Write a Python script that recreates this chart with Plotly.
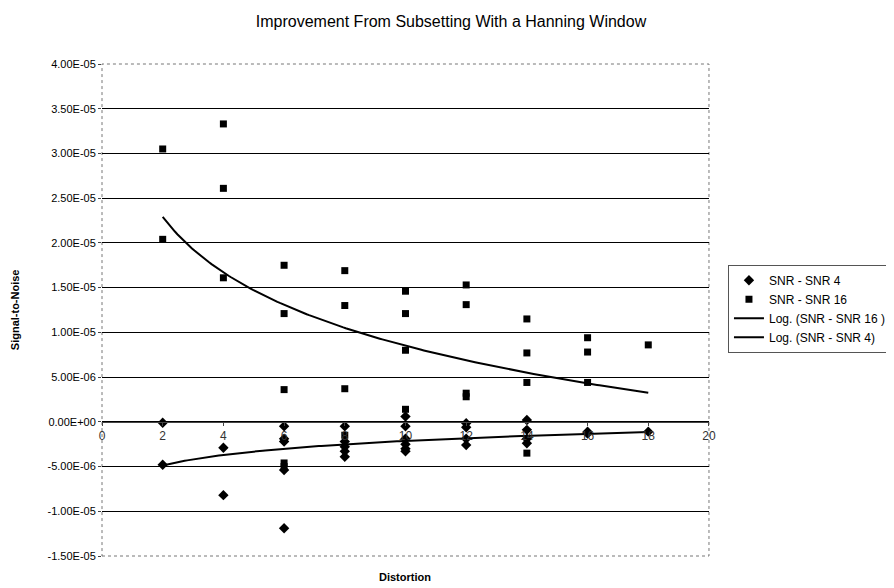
import numpy as np
import plotly.graph_objects as go

# SNR - SNR 4 (diamonds)
snr4_x = [2, 2, 4, 4, 6, 6, 6, 6, 6, 8, 8, 8, 8, 8, 10, 10, 10, 10, 10, 10,
          12, 12, 12, 12, 14, 14, 14, 14, 16, 16, 18]
snr4_y = [-0.1e-6, -4.8e-6, -2.9e-6, -8.2e-6, -0.5e-6, -1.9e-6, -2.2e-6, -5.4e-6, -11.9e-6,
          -0.5e-6, -2.2e-6, -2.8e-6, -3.3e-6, -3.9e-6,
          0.6e-6, -0.5e-6, -1.9e-6, -2.5e-6, -3.0e-6, -3.3e-6,
          -0.15e-6, -0.6e-6, -1.9e-6, -2.6e-6,
          0.2e-6, -0.9e-6, -1.9e-6, -2.4e-6,
          -1.1e-6, -1.3e-6, -1.1e-6]

# SNR - SNR 16 (squares)
snr16_x = [2, 2, 4, 4, 4, 6, 6, 6, 6, 6, 8, 8, 8, 8, 10, 10, 10, 10,
           12, 12, 12, 12, 14, 14, 14, 14, 16, 16, 16, 18]
snr16_y = [30.5e-6, 20.4e-6, 33.3e-6, 26.1e-6, 16.1e-6,
           17.5e-6, 12.1e-6, 3.6e-6, -4.6e-6, -5.0e-6,
           16.9e-6, 13.0e-6, 3.7e-6, -1.5e-6,
           14.6e-6, 12.1e-6, 8.0e-6, 1.4e-6,
           15.3e-6, 13.1e-6, 3.2e-6, 2.8e-6,
           11.5e-6, 7.7e-6, 4.4e-6, -3.5e-6,
           9.4e-6, 7.8e-6, 4.4e-6, 8.6e-6]

y_tickvals = [4e-5, 3.5e-5, 3e-5, 2.5e-5, 2e-5, 1.5e-5, 1e-5, 5e-6, 0,
              -5e-6, -1e-5, -1.5e-5]
y_ticktext = ["4.00E-05", "3.50E-05", "3.00E-05", "2.50E-05", "2.00E-05",
              "1.50E-05", "1.00E-05", "5.00E-06", "0.00E+00", "-5.00E-06",
              "-1.00E-05", "-1.50E-05"]
x_tickvals = [0, 2, 4, 6, 8, 10, 12, 14, 16, 18, 20]


def log_fit(xs, ys):
    a, b = np.polyfit(np.log(np.array(xs, float)), np.array(ys, float), 1)
    xx = np.linspace(min(xs), max(xs), 200)
    return xx, a * np.log(xx) + b


t16x, t16y = log_fit(snr16_x, snr16_y)
t4x, t4y = log_fit(snr4_x, snr4_y)

font = "Liberation Sans, Arial, sans-serif"

fig = go.Figure()
fig.add_trace(go.Scatter(x=snr4_x, y=snr4_y, mode="markers", name="SNR - SNR 4",
                         marker=dict(symbol="diamond", size=8, color="black")))
fig.add_trace(go.Scatter(x=snr16_x, y=snr16_y, mode="markers", name="SNR - SNR 16",
                         marker=dict(symbol="square", size=7, color="black")))
fig.add_trace(go.Scatter(x=t16x, y=t16y, mode="lines", name="Log. (SNR - SNR 16 )",
                         line=dict(color="black", width=2)))
fig.add_trace(go.Scatter(x=t4x, y=t4y, mode="lines", name="Log. (SNR - SNR 4)",
                         line=dict(color="black", width=2)))

# page body has an 8px margin, so the figure is a bit smaller than the window
fig.update_layout(
    width=886, height=580,
    margin=dict(l=94, r=184, t=56, b=32),
    paper_bgcolor="white", plot_bgcolor="white",
    font=dict(family=font, size=10, color="black"),
    title=dict(text="Improvement From Subsetting With a Hanning Window",
               x=0.5, xanchor="center", y=0.977, yanchor="middle",
               font=dict(size=16, family=font)),
    showlegend=True,
    legend=dict(xref="container", x=0.8126, xanchor="left", y=0.592, yanchor="top",
                bordercolor="#555", borderwidth=1, bgcolor="white",
                font=dict(size=12), tracegroupgap=0),
    xaxis=dict(range=[0, 20], tickvals=x_tickvals, showgrid=False, zeroline=False,
               showline=True, linecolor="#444", linewidth=1, ticks="outside",
               ticklen=3, tickcolor="#444", anchor="free", position=1.5 / 5.5,
               tickfont=dict(size=12, color="#333")),
    yaxis=dict(range=[-1.5e-5, 4e-5], tickvals=y_tickvals, ticktext=y_ticktext,
               showgrid=True, gridcolor="black", gridwidth=1, zeroline=False,
               showline=False, ticks="outside", ticklen=3, tickcolor="#444",
               tickfont=dict(size=11)),
    shapes=[dict(type="rect", xref="paper", yref="paper", x0=0, x1=1, y0=0, y1=1,
                 line=dict(color="#777", width=1, dash="dot"), layer="below")],
    annotations=[
        dict(text="<b>Distortion</b>", xref="paper", yref="paper", x=0.5, y=-0.043,
             xanchor="center", yanchor="middle", showarrow=False, font=dict(size=11)),
        dict(text="<b>Signal-to-Noise</b>", xref="paper", yref="paper", x=-0.143, y=0.5,
             xanchor="center", yanchor="middle", showarrow=False, textangle=-90,
             font=dict(size=11)),
    ],
)

fig.write_html("out.html")
